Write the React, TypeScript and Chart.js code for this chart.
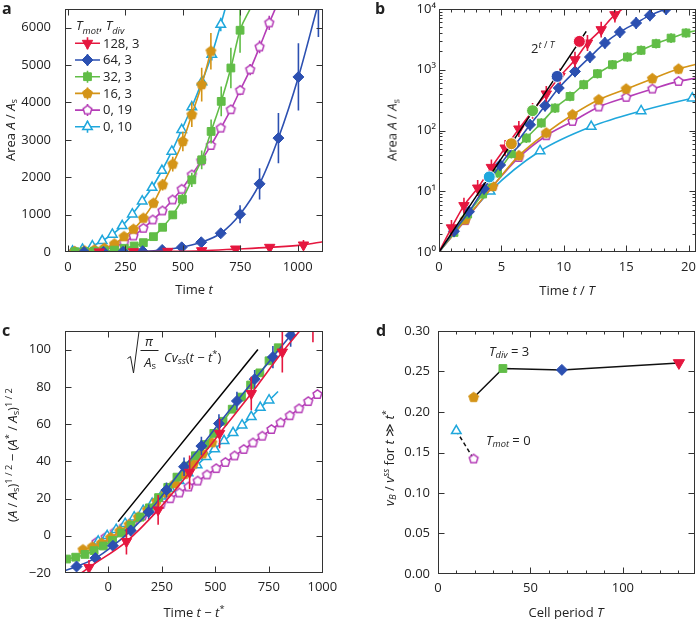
import React, { useEffect, useRef } from 'react';
import { Chart, registerables } from 'chart.js';
import { drawPoint } from 'chart.js/helpers';
Chart.register(...registerables);

const FONT = "'Open Sans', 'Noto Sans', sans-serif";
const INK = '#222';
const RED = '#E5173F', BLUE = '#2C50B1', GREEN = '#61BD47', ORANGE = '#D49417', PURPLE = '#B53DB7', CYAN = '#1FA7DC';

// ---------------- Panel a : area vs time ----------------
const aXTicks = [0, 250, 500, 750, 1000];
const aYTicks = [0, 1000, 2000, 3000, 4000, 5000, 6000];
const aRedT = [136, 285, 434, 582, 730, 878, 1025];
const aRedA = [3, 8, 18, 35, 80, 125, 188];
const aRedE = [3, 6, 10, 20, 40, 60, 130];
const aRedFitT = [0, 136, 285, 434, 582, 730, 878, 1025, 1110];
const aRedFitA = [0, 3, 8, 18, 35, 78, 125, 190, 276];
const aBlueT = [70, 155, 240, 325, 410, 495, 580, 665, 749, 834, 916, 1003, 1090];
const aBlueA = [1, 3, 8, 22, 55, 125, 260, 501, 1010, 1823, 3047, 4682, 6700];
const aBlueE = [1, 2, 3, 6, 12, 25, 45, 100, 240, 420, 670, 900, 950];
const aBlueFitT = [0, 70, 155, 240, 325, 410, 495, 580, 665, 749, 834, 916, 1003, 1083];
const aBlueFitA = [0, 1, 3, 8, 22, 55, 125, 260, 501, 1010, 1823, 3047, 4682, 6500];
const aGreenT = [30, 72, 115, 158, 202, 245, 288, 328, 372, 412, 456, 498, 539, 582, 623, 667, 709, 749];
const aGreenA = [8, 12, 20, 30, 50, 100, 161, 250, 410, 661, 992, 1412, 1930, 2466, 3225, 4029, 4922, 5932];
const aGreenE = [3, 4, 5, 6, 8, 15, 20, 30, 45, 70, 100, 140, 190, 250, 320, 400, 540, 600];
const aGreenFitT = [0, 30, 72, 115, 158, 202, 245, 288, 328, 372, 412, 456, 498, 539, 582, 623, 667, 709, 749, 793];
const aGreenFitA = [0, 8, 12, 20, 30, 50, 100, 161, 250, 410, 661, 992, 1412, 1930, 2466, 3225, 4029, 4922, 5932, 6500];
const aOrangeT = [29, 72, 115, 158, 202, 244, 285, 328, 372, 412, 456, 500, 539, 582, 622];
const aOrangeA = [15, 30, 55, 100, 214, 410, 608, 903, 1305, 1796, 2350, 2957, 3672, 4476, 5370];
const aOrangeE = [5, 8, 10, 15, 25, 40, 60, 80, 110, 150, 200, 260, 330, 450, 490];
const aPurpleT = [29, 72, 115, 158, 202, 244, 285, 328, 369, 411, 455, 495, 539, 580, 622, 665, 709, 749, 793, 834, 876];
const aPurpleA = [5, 15, 35, 75, 140, 250, 429, 635, 858, 1099, 1394, 1680, 2064, 2439, 2850, 3315, 3806, 4324, 4878, 5485, 6128];
const aPurpleE = [2, 3, 4, 5, 6, 8, 12, 18, 25, 30, 40, 50, 60, 70, 80, 90, 110, 130, 150, 170, 190];
const aPurpleFitT = [0, 29, 72, 115, 158, 202, 244, 285, 328, 369, 411, 455, 495, 539, 580, 622, 665, 709, 749, 793, 834, 876, 902];
const aPurpleFitA = [0, 5, 15, 35, 75, 140, 250, 429, 635, 858, 1099, 1394, 1680, 2064, 2439, 2850, 3315, 3806, 4324, 4878, 5485, 6128, 6500];
const aCyanT = [20, 63, 106, 149, 193, 236, 280, 323, 366, 409, 452, 495, 539, 583, 626, 665];
const aCyanA = [20, 70, 160, 300, 470, 700, 1010, 1359, 1724, 2180, 2690, 3270, 3878, 4550, 5280, 6084];
const aCyanE = [5, 5, 8, 10, 15, 20, 30, 40, 50, 60, 80, 100, 120, 140, 160, 180];
const aCyanFitT = [0, 20, 63, 106, 149, 193, 236, 280, 323, 366, 409, 452, 495, 539, 583, 626, 665, 684];
const aCyanFitA = [0, 20, 70, 160, 300, 470, 700, 1010, 1359, 1724, 2180, 2690, 3270, 3878, 4550, 5280, 6084, 6500];
const legendLabels = ['128, 3', '64, 3', '32, 3', '16, 3', '0, 19', '0, 10'];

// ---------------- Panel b : log area vs t/T ----------------
const bXTicks = [0, 5, 10, 15, 20];
const bXMinor = [1, 2, 3, 4, 6, 7, 8, 9, 11, 12, 13, 14, 16, 17, 18, 19];
const bYTicks = [1, 10, 100, 1000, 10000];
const bYMinor = [2, 3, 4, 5, 6, 7, 8, 9, 20, 30, 40, 50, 60, 70, 80, 90, 200, 300, 400, 500, 600, 700, 800, 900, 2000, 3000, 4000, 5000, 6000, 7000, 8000, 9000];
const bRedX = [0, 1.0, 2.0, 3.1, 4.2, 5.3, 6.4, 7.5, 8.6, 9.7, 10.9, 11.9, 13.0, 14.1, 14.7];
const bRedY = [1, 2.5, 5.8, 11.3, 24.7, 51.5, 106, 210, 400, 780, 1462, 2755, 4570, 8060, 10000];
const bBlueX = [0, 1.2, 2.4, 3.6, 4.9, 6.1, 7.3, 8.5, 9.6, 10.9, 12.1, 13.3, 14.5, 15.8, 16.9, 18.2];
const bBlueY = [1, 2.2, 4.6, 11, 27, 58, 124, 256, 500, 938, 1620, 2760, 4170, 5880, 7850, 10000];
const bGreenX = [0, 1.2, 2.3, 3.5, 4.7, 5.8, 7.0, 8.2, 9.3, 10.5, 11.6, 12.7, 13.9, 15.1, 16.2, 17.4, 18.6, 19.8, 20.6];
const bGreenY = [1, 2.1, 4.2, 9, 20, 41.5, 75, 133, 234, 364, 568, 861, 1210, 1620, 2090, 2690, 3320, 4030, 4400];
const bOrangeX = [0, 2.1, 4.3, 6.4, 8.6, 10.7, 12.8, 15.0, 17.1, 19.2, 20.6];
const bOrangeY = [1, 3.4, 12, 38.5, 91, 182, 321, 482, 713, 1025, 1230];
const bPurpleX = [0, 2.1, 4.3, 6.4, 8.6, 10.7, 12.8, 15.0, 17.1, 19.2, 20.6];
const bPurpleY = [1, 3.3, 12, 36, 82, 141, 244, 351, 482, 643, 730];
const bCyanX = [0, 4.1, 8.1, 12.2, 16.2, 20.3, 20.6];
const bCyanY = [1, 10, 46, 116, 210, 340, 350];
const bStarX = [4.03, 5.8, 7.5, 9.47, 11.25];
const bStarY = [17.2, 60.6, 212, 777, 2930];
const bGuideX = [0, 11.8];
const bGuideY = [1, 4270];

// ---------------- Panel c : sqrt-area vs t - t* ----------------
const cXTicks = [0, 250, 500, 750, 1000];
const cYTicks = [-20, 0, 20, 40, 60, 80, 100];
const cRedX = [-90, 85, 233, 380, 520, 668, 813, 956];
const cRedY = [-17, -3.1, 13.9, 34.1, 55, 76.4, 98.7, 115];
const cRedE = [4, 7, 8, 9, 8, 9, 11, 11];
const cRedFitX = [-125, -90, 85, 233, 380, 520, 668, 813, 894];
const cRedFitY = [-20, -17, -3.1, 13.9, 34.1, 55, 76.4, 98.7, 110];
const cBlueX = [-148, -60, 22, 105, 189, 272, 354, 435, 517, 601, 684, 769, 852];
const cBlueY = [-16.5, -12, -5.4, 2.8, 12.8, 24.6, 37.1, 48.2, 60.3, 72.4, 84.1, 96, 107.6];
const cBlueE = [1.5, 2, 2, 3, 4, 4, 5, 5, 5, 5, 5, 6, 6];
const cBlueFitX = [-202, -148, -60, 22, 105, 189, 272, 354, 435, 517, 601, 684, 769, 852, 880];
const cBlueFitY = [-18.8, -16.5, -12, -5.4, 2.8, 12.8, 24.6, 37.1, 48.2, 60.3, 72.4, 84.1, 96, 107.6, 111];
const cGreenX = [-195, -152, -109, -66, -23, 20, 63, 106, 149, 192, 235, 278, 321, 364, 407, 450, 493, 536, 579, 622, 665, 708, 751, 794];
const cGreenY = [-12.5, -11.5, -10, -8, -5.5, -2.5, 1.5, 5.5, 10, 15, 20.5, 26, 31.5, 37.5, 43, 49, 55, 61.5, 68, 74.5, 81, 87.5, 94, 101];
const cOrangeX = [-118, -75, -32, 11, 54, 97, 140, 183, 226, 269, 312, 355, 398, 441, 484];
const cOrangeY = [-7.5, -6, -4, -1, 2.5, 6, 10, 14, 18.5, 23, 28, 33, 38.5, 44, 50];
const cPurpleX = [-55, -12, 31, 74, 117, 160, 203, 246, 289, 332, 375, 418, 461, 504, 547, 590, 633, 676, 719, 762, 805, 848, 891, 934, 977];
const cPurpleY = [-3.5, -0.8, 2.0, 4.9, 7.8, 10.7, 13.7, 16.8, 19.9, 23.0, 26.2, 29.4, 32.7, 36.1, 39.4, 42.9, 46.4, 49.9, 53.5, 57.1, 60.7, 64.5, 68.2, 72.1, 75.9];
const cCyanX = [-47, -5, 37, 79, 121, 163, 205, 247, 289, 331, 373, 415, 458, 497, 541, 583, 625, 668, 710, 751];
const cCyanY = [-3, 0, 3.3, 6.5, 10, 13.5, 17.3, 21.2, 25.3, 29.5, 33.7, 38, 42.5, 46.6, 51, 55.3, 59.4, 63.9, 68.9, 72.8];
const cGuideX = [46, 699];
const cGuideY = [7.6, 100.1];

// ---------------- Panel d : speed vs cell period ----------------
const dXTicks = [0, 50, 100];
const dXMinor = [10, 20, 30, 40, 60, 70, 80, 90, 110, 120, 130];
const dYTicks = [0, 0.05, 0.1, 0.15, 0.2, 0.25, 0.3];
// order: red(128,3), blue(64,3), green(32,3), orange(16,3), purple(0,19), cyan(0,10)
const dPeriod = [130.3, 67, 35.1, 19.3, 19.3, 9.9];
const dSpeed = [0.2606, 0.252, 0.2537, 0.218, 0.142, 0.1768];

// ---------------- helpers ----------------
const pts = (xs: number[], ys: number[]) => xs.map((x, i) => ({ x, y: ys[i] }));

function pentagon(r: number, fill: string, stroke: string, lw: number) {
  const s = Math.ceil(2 * r + 2 * lw + 2);
  const c = document.createElement('canvas');
  c.width = s; c.height = s;
  const ctx = c.getContext('2d')!;
  ctx.beginPath();
  for (let i = 0; i < 5; i++) {
    const a = -Math.PI / 2 + (i * 2 * Math.PI) / 5;
    const x = s / 2 + r * Math.cos(a), y = s / 2 + r * Math.sin(a);
    if (i) ctx.lineTo(x, y); else ctx.moveTo(x, y);
  }
  ctx.closePath();
  ctx.fillStyle = fill; ctx.fill();
  ctx.lineWidth = lw; ctx.strokeStyle = stroke; ctx.stroke();
  return c;
}

const ORANGE_PENT = pentagon(5.2, ORANGE, ORANGE, 1);
const PURPLE_PENT = pentagon(4.6, '#fff', PURPLE, 1.5);

const ST: any = {
  red: { color: RED, style: 'triangle', rotation: 180, radius: 6 },
  blue: { color: BLUE, style: 'rectRot', radius: 5.5 },
  green: { color: GREEN, style: 'rect', radius: 5.5 },
  orange: { color: ORANGE, style: ORANGE_PENT, radius: 5 },
  purple: { color: PURPLE, style: PURPLE_PENT, radius: 5, hollow: true },
  cyan: { color: CYAN, style: 'triangle', radius: 5.5, hollow: true },
};

function markers(xs: number[], ys: number[], st: any, extra: any = {}) {
  return {
    type: 'line', data: pts(xs, ys), showLine: false,
    pointStyle: st.style, pointRotation: st.rotation || 0,
    pointRadius: st.radius, pointHoverRadius: st.radius,
    pointBackgroundColor: st.hollow ? '#fff' : st.color,
    pointBorderColor: st.color, pointBorderWidth: st.hollow ? 1.5 : 1,
    borderColor: st.color, backgroundColor: st.color, ...extra,
  };
}
function curve(xs: number[], ys: number[], color: string, extra: any = {}) {
  return {
    type: 'line', data: pts(xs, ys), showLine: true, pointRadius: 0, pointHoverRadius: 0,
    borderColor: color, backgroundColor: color, borderWidth: 1.6,
    cubicInterpolationMode: 'monotone', fill: false, ...extra,
  };
}

function axis(ticks: number[], min: number, max: number, size: number, pad: number, fmt: any, horizontal: boolean, type = 'linear') {
  return {
    type, min, max,
    grid: { display: false, drawTicks: false },
    border: { display: false },
    afterBuildTicks: (s: any) => { s.ticks = ticks.map((v) => ({ value: v })); },
    afterFit: (s: any) => {
      if (horizontal) s.height = size; else s.width = size;
      s.paddingTop = 0; s.paddingBottom = 0; s.paddingLeft = 0; s.paddingRight = 0;
    },
    ticks: { autoSkip: false, maxRotation: 0, padding: pad, color: INK, font: { family: FONT, size: 13 }, callback: fmt },
  };
}

const errPlugin = {
  id: 'errbars',
  beforeDatasetDraw(chart: any, args: any) {
    const ds = chart.data.datasets[args.index];
    if (!ds.errs && !ds.errRel) return;
    const { ctx, chartArea: a } = chart;
    const xs = chart.scales.x, ys = chart.scales.y;
    ctx.save();
    ctx.beginPath(); ctx.rect(a.left, a.top, a.right - a.left, a.bottom - a.top); ctx.clip();
    ctx.strokeStyle = ds.borderColor; ctx.lineWidth = 1.6;
    ctx.beginPath();
    ds.data.forEach((p: any, i: number) => {
      let lo, hi;
      if (ds.errRel) { lo = p.y / (1 + ds.errRel); hi = p.y * (1 + ds.errRel); }
      else { const e = ds.errs[i]; if (!e) return; lo = p.y - e; hi = p.y + e; }
      const x = xs.getPixelForValue(p.x);
      ctx.moveTo(x, ys.getPixelForValue(lo)); ctx.lineTo(x, ys.getPixelForValue(hi));
    });
    ctx.stroke();
    ctx.restore();
  },
};

function framePlugin(xMinor: number[] = [], yMinor: number[] = []) {
  return {
    id: 'frame',
    afterDatasetsDraw(chart: any) {
      const { ctx, chartArea: a, scales } = chart;
      const xs = scales.x, ys = scales.y;
      const L = Math.round(a.left) + 0.5, R = Math.round(a.right) - 0.5;
      const T = Math.round(a.top) + 0.5, B = Math.round(a.bottom) - 0.5;
      ctx.save();
      ctx.strokeStyle = '#333'; ctx.lineWidth = 1;
      ctx.strokeRect(L, T, R - L, B - T);
      ctx.beginPath();
      const xt = (v: number, len: number) => {
        const p = Math.round(xs.getPixelForValue(v)) + 0.5;
        if (p < L - 0.1 || p > R + 0.1) return;
        ctx.moveTo(p, B); ctx.lineTo(p, B - len); ctx.moveTo(p, T); ctx.lineTo(p, T + len);
      };
      const yt = (v: number, len: number) => {
        const p = Math.round(ys.getPixelForValue(v)) + 0.5;
        if (p < T - 0.1 || p > B + 0.1) return;
        ctx.moveTo(L, p); ctx.lineTo(L + len, p); ctx.moveTo(R, p); ctx.lineTo(R - len, p);
      };
      xs.ticks.forEach((t: any) => xt(t.value, 6));
      ys.ticks.forEach((t: any) => yt(t.value, 6));
      xMinor.forEach((v) => xt(v, 3));
      yMinor.forEach((v) => yt(v, 3));
      ctx.stroke();
      ctx.restore();
    },
  };
}

// rich text on canvas: segments {t, it, sub}
function drawRich(ctx: any, segs: any[], x: number, y: number, size: number) {
  let cx = x;
  segs.forEach((s) => {
    const sz = s.sub ? size * 0.72 : size;
    ctx.font = `${s.it ? 'italic ' : ''}${sz}px ${FONT}`;
    ctx.fillText(s.t, cx, y + (s.sub ? size * 0.3 : 0));
    cx += ctx.measureText(s.t).width;
  });
}

function legendPlugin(items: any[], labels: string[]) {
  return {
    id: 'customLegend',
    afterDraw(chart: any) {
      const ctx = chart.ctx;
      const x0 = 75, len = 25, cx = 87.5, y0 = 43.3, dy = 16.7;
      ctx.save();
      ctx.fillStyle = INK;
      ctx.textBaseline = 'alphabetic';
      drawRich(ctx, [
        { t: 'T', it: true }, { t: 'mot', it: true, sub: true }, { t: ', ' },
        { t: 'T', it: true }, { t: 'div', it: true, sub: true },
      ], 76, 30, 13);
      ctx.font = `13px ${FONT}`;
      ctx.textBaseline = 'middle';
      items.forEach((st, i) => {
        const y = y0 + i * dy;
        ctx.strokeStyle = st.color; ctx.lineWidth = 1.6;
        ctx.beginPath();
        ctx.moveTo(x0, y); ctx.lineTo(x0 + len, y);
        ctx.moveTo(cx, y - 6); ctx.lineTo(cx, y + 6);
        ctx.stroke();
        ctx.fillStyle = st.hollow ? '#fff' : st.color;
        ctx.lineWidth = st.hollow ? 1.5 : 1;
        drawPoint(ctx, { pointStyle: st.style, rotation: st.rotation || 0, radius: st.radius, borderWidth: ctx.lineWidth } as any, cx, y);
        ctx.fillStyle = INK;
        ctx.fillText(labels[i], x0 + len + 3, y + 0.5);
      });
      ctx.restore();
    },
  };
}

const fmtInt = (v: any) => String(v);
const fmtMinus = (v: any) => (v < 0 ? '\u2212' + Math.abs(v) : String(v));
const SUPS = ['\u2070', '\u00B9', '\u00B2', '\u00B3', '\u2074'];
const fmtPow = (v: any) => '10' + SUPS[Math.round(Math.log10(v))];
const fmt2 = (v: any) => Number(v).toFixed(2);

function baseOptions(padding: any, x: any, y: any) {
  return {
    responsive: false, maintainAspectRatio: false, animation: false, events: [],
    layout: { padding, autoPadding: false },
    plugins: { legend: { display: false }, tooltip: { enabled: false } },
    scales: { x, y },
  };
}

function makeA(): any {
  const datasets = [
    markers(aRedT, aRedA, ST.red, { errs: aRedE }),
    curve(aRedFitT, aRedFitA, RED),
    markers(aBlueT, aBlueA, ST.blue, { errs: aBlueE }),
    curve(aBlueFitT, aBlueFitA, BLUE),
    markers(aGreenT, aGreenA, ST.green, { errs: aGreenE }),
    curve(aGreenFitT, aGreenFitA, GREEN),
    markers(aOrangeT, aOrangeA, ST.orange, { errs: aOrangeE }),
    curve([0, ...aOrangeT], [0, ...aOrangeA], ORANGE),
    markers(aPurpleT, aPurpleA, ST.purple, { errs: aPurpleE }),
    curve(aPurpleFitT, aPurpleFitA, PURPLE),
    markers(aCyanT, aCyanA, ST.cyan, { errs: aCyanE }),
    curve(aCyanFitT, aCyanFitA, CYAN),
  ];
  return {
    type: 'line',
    data: { datasets },
    options: baseOptions({ left: 0, top: 9, right: 22, bottom: 0 },
      axis(aXTicks, -13, 1110, 53, 7, fmtInt, true),
      axis(aYTicks, 0, 6500, 65, 14, fmtInt, false)),
    plugins: [errPlugin, framePlugin(), legendPlugin([ST.red, ST.blue, ST.green, ST.orange, ST.purple, ST.cyan], legendLabels)],
  };
}

function makeB(): any {
  const strip = (a: number[]) => a.slice(1, -1);
  const datasets = [
    markers(bStarX, bStarY, { color: '#000', style: 'circle', radius: 6 }, {
      pointBackgroundColor: [CYAN, ORANGE, GREEN, BLUE, RED], pointBorderColor: '#fff', pointBorderWidth: 1,
    }),
    curve(bGuideX, bGuideY, '#000', { cubicInterpolationMode: 'default', tension: 0, borderWidth: 1.5 }),
    markers(bRedX.slice(1, -1), bRedY.slice(1, -1), ST.red, { errRel: 0.35 }),
    curve(bRedX, bRedY, RED),
    markers(bBlueX.slice(1), bBlueY.slice(1), ST.blue, { errRel: 0.25 }),
    curve(bBlueX, bBlueY, BLUE),
    markers(strip(bGreenX), strip(bGreenY), ST.green, { errRel: 0.2 }),
    curve(bGreenX, bGreenY, GREEN),
    markers(strip(bOrangeX), strip(bOrangeY), ST.orange, { errRel: 0.2 }),
    curve(bOrangeX, bOrangeY, ORANGE),
    markers(strip(bPurpleX), strip(bPurpleY), ST.purple, { errRel: 0.12 }),
    curve(bPurpleX, bPurpleY, PURPLE),
    markers(strip(bCyanX), strip(bCyanY), ST.cyan, { errRel: 0.08 }),
    curve(bCyanX, bCyanY, CYAN),
  ];
  return {
    type: 'line',
    data: { datasets },
    options: baseOptions({ left: 0, top: 9, right: 1, bottom: 0 },
      axis(bXTicks, 0, 20.6, 53, 7, fmtInt, true),
      axis(bYTicks, 1, 10000, 89, 3, fmtPow, false, 'logarithmic')),
    plugins: [errPlugin, framePlugin(bXMinor, bYMinor)],
  };
}

function makeC(): any {
  const datasets = [
    curve(cGuideX, cGuideY, '#000', { cubicInterpolationMode: 'default', tension: 0, borderWidth: 1.5 }),
    markers(cRedX, cRedY, ST.red, { errs: cRedE }),
    curve(cRedFitX, cRedFitY, RED),
    markers(cBlueX, cBlueY, ST.blue, { errs: cBlueE }),
    curve(cBlueFitX, cBlueFitY, BLUE),
    markers(cGreenX, cGreenY, ST.green),
    curve(cGreenX, cGreenY, GREEN),
    markers(cOrangeX, cOrangeY, ST.orange),
    curve(cOrangeX, cOrangeY, ORANGE),
    markers(cCyanX, cCyanY, ST.cyan),
    curve([...cCyanX, 793], [...cCyanY, 77.5], CYAN),
    markers(cPurpleX, cPurpleY, ST.purple),
    curve(cPurpleX, cPurpleY, PURPLE),
  ];
  return {
    type: 'line',
    data: { datasets },
    options: baseOptions({ left: 0, top: 21, right: 22, bottom: 0 },
      axis(cXTicks, -202, 1003, 46, 6, fmtInt, true),
      axis(cYTicks, -20, 110, 65, 14, fmtMinus, false)),
    plugins: [errPlugin, framePlugin()],
  };
}

function makeD(): any {
  const order = [ST.red, ST.blue, ST.green, ST.orange, ST.purple, ST.cyan];
  const datasets: any[] = order.map((st, i) =>
    markers([dPeriod[i]], [dSpeed[i]], st, st === ST.red ? { pointRadius: 6.5 } : {}));
  datasets.push(curve([dPeriod[3], dPeriod[2], dPeriod[1], dPeriod[0]], [dSpeed[3], dSpeed[2], dSpeed[1], dSpeed[0]], '#111',
    { cubicInterpolationMode: 'default', tension: 0, borderWidth: 1.5 }));
  datasets.push(curve([dPeriod[5], dPeriod[4]], [dSpeed[5], dSpeed[4]], '#111',
    { cubicInterpolationMode: 'default', tension: 0, borderWidth: 1.5, borderDash: [4, 3] }));
  return {
    type: 'line',
    data: { datasets },
    options: baseOptions({ left: 0, top: 21, right: 2, bottom: 0 },
      axis(dXTicks, 0, 139, 45, 6, fmtInt, true),
      axis(dYTicks, 0, 0.3, 88, 8, fmt2, false)),
    plugins: [framePlugin(dXMinor, [])],
  };
}

function ChartCanvas({ x, y, w, h, make }: any) {
  const ref = useRef<HTMLCanvasElement>(null);
  useEffect(() => {
    const chart = new Chart(ref.current as HTMLCanvasElement, make());
    return () => chart.destroy();
  }, []);
  return <canvas ref={ref} width={w} height={h} style={{ position: 'absolute', left: x, top: y, width: w, height: h, display: 'block' }} />;
}

const Sub = ({ children }: any) => <span style={{ fontSize: '0.72em', verticalAlign: '-0.3em', lineHeight: 0 }}>{children}</span>;
const Sup = ({ children }: any) => <span style={{ fontSize: '0.72em', verticalAlign: '0.5em', lineHeight: 0 }}>{children}</span>;
const I = ({ children }: any) => <i>{children}</i>;

function Txt({ x, y, rot, size = 13, ax = -50, ay = -50, bold, children }: any) {
  return (
    <div style={{
      position: 'absolute', left: x, top: y, whiteSpace: 'nowrap', fontSize: size, lineHeight: 1,
      color: INK, fontWeight: bold ? 700 : 400,
      transform: `translate(${ax}%, ${ay}%)${rot ? ` rotate(${rot}deg)` : ''}`,
    }}>{children}</div>
  );
}

export default function App() {
  return (
    <div style={{ position: 'absolute', left: 0, top: 0, width: 697, height: 619, overflow: 'hidden', background: '#fff', fontFamily: FONT, color: INK }}>
      <ChartCanvas x={0} y={0} w={345} h={305} make={makeA} />
      <ChartCanvas x={350} y={0} w={347} h={305} make={makeB} />
      <ChartCanvas x={0} y={310} w={345} h={309} make={makeC} />
      <ChartCanvas x={350} y={310} w={347} h={309} make={makeD} />

      {/* panel letters */}
      <Txt x={2} y={0} ax={0} ay={0} size={16} bold>a</Txt>
      <Txt x={375} y={0} ax={0} ay={0} size={16} bold>b</Txt>
      <Txt x={2} y={322} ax={0} ay={0} size={16} bold>c</Txt>
      <Txt x={376} y={322} ax={0} ay={0} size={16} bold>d</Txt>

      {/* panel a */}
      <Txt x={10} y={130} rot={-90}>Area <I>A</I> / <I>A</I><Sub>s</Sub></Txt>
      <Txt x={194} y={289}>Time <I>t</I></Txt>

      {/* panel b */}
      <Txt x={392} y={130} rot={-90}>Area <I>A</I> / <I>A</I><Sub>s</Sub></Txt>
      <Txt x={567} y={290}>Time <I>t</I> / <I>T</I></Txt>
      <Txt x={531} y={48} ax={0}>2<Sup><I>t</I> / <I>T</I></Sup></Txt>

      {/* panel c */}
      <Txt x={12} y={455} rot={-90}>(<I>A</I> / <I>A</I><Sub>s</Sub>)<Sup>1 / 2</Sup> − (<I>A</I><Sup>*</Sup> / <I>A</I><Sub>s</Sub>)<Sup>1 / 2</Sup></Txt>
      <Txt x={194} y={612}>Time <I>t</I> − <I>t</I><Sup>*</Sup></Txt>
      <svg width={697} height={619} style={{ position: 'absolute', left: 0, top: 0, pointerEvents: 'none' }}>
        <path d="M127.5 358.5 L130.5 356.5 L133.5 373 L139 331.5 L163 331.5" fill="none" stroke={INK} strokeWidth={1} />
        <path d="M140.5 350.5 L158.5 350.5" fill="none" stroke={INK} strokeWidth={1} />
      </svg>
      <Txt x={149} y={341}><I>π</I></Txt>
      <Txt x={150} y={362}><I>A</I><Sub>s</Sub></Txt>
      <Txt x={164} y={357} ax={0}><I>C</I><I>v</I><Sub><I>ss</I></Sub>(<I>t</I> − <I>t</I><Sup>*</Sup>)</Txt>

      {/* panel d */}
      <Txt x={389} y={458} rot={-90}><I>v</I><Sub><I>B</I></Sub> / <I>v</I><Sup><I>ss</I></Sup> for <I>t</I> ≫ <I>t</I><Sup>*</Sup></Txt>
      <Txt x={566} y={612}>Cell period <I>T</I></Txt>
      <Txt x={489} y={351} ax={0}><I>T</I><Sub><I>div</I></Sub> = 3</Txt>
      <Txt x={486} y={440} ax={0}><I>T</I><Sub><I>mot</I></Sub> = 0</Txt>
    </div>
  );
}
